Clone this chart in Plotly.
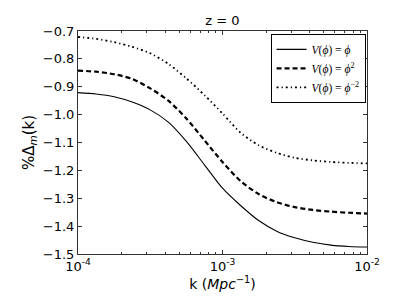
import numpy as np
import plotly.graph_objects as go

log10_k = [-4.0, -3.875, -3.75, -3.625, -3.5, -3.375, -3.25, -3.125, -3.0,
           -2.875, -2.75, -2.625, -2.5, -2.375, -2.25, -2.125, -2.0]
k_vals = [10 ** v for v in log10_k]

delta_phi = [-0.921, -0.926, -0.936, -0.955, -0.983, -1.027, -1.096, -1.180, -1.264,
             -1.326, -1.380, -1.418, -1.442, -1.458, -1.468, -1.473, -1.475]
delta_phi2 = [-0.842, -0.846, -0.855, -0.872, -0.906, -0.950, -1.014, -1.092, -1.170,
              -1.238, -1.285, -1.314, -1.332, -1.342, -1.348, -1.352, -1.355]
delta_phim2 = [-0.7215, -0.728, -0.740, -0.757, -0.780, -0.818, -0.870, -0.930, -0.996,
               -1.065, -1.110, -1.137, -1.155, -1.164, -1.170, -1.173, -1.175]

names = ["<i>V</i>(<i>ϕ</i>) = <i>ϕ</i>",
         "<i>V</i>(<i>ϕ</i>) = <i>ϕ</i><sup>2</sup>",
         "<i>V</i>(<i>ϕ</i>) = <i>ϕ</i><sup>−2</sup>"]

y_ticks = [-0.7, -0.8, -0.9, -1.0, -1.1, -1.2, -1.3, -1.4, -1.5]
y_labels = ["−0.7", "−0.8", "−0.9", "−1.0", "−1.1", "−1.2", "−1.3", "−1.4", "−1.5"]
x_ticks = [1e-4, 1e-3, 1e-2]
x_labels = ["10<sup>-4</sup>", "10<sup>-3</sup>", "10<sup>-2</sup>"]
x_minor = [m * 10 ** e for e in (-4, -3) for m in range(2, 10)]

fig = go.Figure()
fig.add_trace(go.Scatter(x=k_vals, y=delta_phi, mode="lines", name=names[0],
                         line=dict(color="black", width=1.1, shape="spline", smoothing=0.8)))
fig.add_trace(go.Scatter(x=k_vals, y=delta_phi2, mode="lines", name=names[1],
                         line=dict(color="black", width=2.2, dash="5px,3px", shape="spline", smoothing=0.8)))
fig.add_trace(go.Scatter(x=k_vals, y=delta_phim2, mode="lines", name=names[2],
                         line=dict(color="black", width=1.8, dash="2px,3px,1.2px,3px", shape="spline", smoothing=0.8)))

axis_common = dict(showgrid=False, zeroline=False, showline=True, linecolor="#333333",
                   linewidth=1, mirror="ticks", ticks="inside", ticklen=4, tickcolor="#333333",
                   automargin=False,
                   tickfont=dict(family="DejaVu Sans", size=13, color="black"))

fig.update_xaxes(type="log", range=[-4, -2], tickvals=x_ticks, ticktext=x_labels,
                 minor=dict(ticks="inside", tickvals=x_minor, ticklen=2, tickcolor="#333333"),
                 title=dict(text="k (<i>Mpc</i><sup>−1</sup>)", font=dict(family="DejaVu Sans", size=14, color="black"),
                            standoff=6),
                 **axis_common)
fig.update_yaxes(range=[-1.5, -0.7], tickvals=y_ticks, ticktext=y_labels,
                 title=dict(text="%Δ<sub><i>m</i></sub>(k)", font=dict(family="DejaVu Sans", size=15, color="black"),
                            standoff=4),
                 **axis_common)

fig.update_layout(
    width=409, height=307,
    margin=dict(l=78, r=42, t=31, b=53),
    paper_bgcolor="white", plot_bgcolor="white",
    title=dict(text="z = 0", x=(78 + 367) / 2 / 409, xanchor="center", y=1 - 20 / 307, yanchor="middle",
               font=dict(family="DejaVu Sans", size=13, color="black")),
    legend=dict(x=0.995, y=0.987, xanchor="right", yanchor="top",
                bgcolor="white", bordercolor="black", borderwidth=1,
                font=dict(family="Liberation Serif", size=11.5, color="black"),
                tracegroupgap=0),
    showlegend=True,
)

fig.write_html("out.html", config={"displayModeBar": False},
               post_script="document.body.style.margin='0';document.body.style.overflow='hidden';")
